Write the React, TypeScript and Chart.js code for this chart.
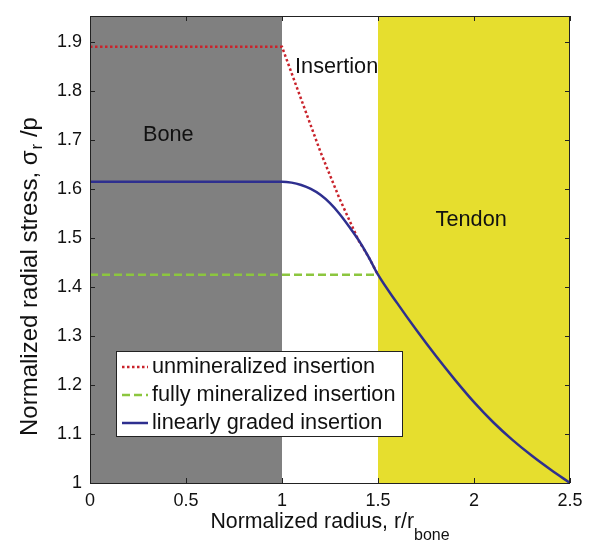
import React, { useEffect, useRef } from "react";
import { Chart, registerables } from "chart.js";

Chart.register(...registerables);

// ---- data ----
const xTickValues = [0, 0.5, 1, 1.5, 2, 2.5];
const xTickLabels = ["0", "0.5", "1", "1.5", "2", "2.5"];
const yTickValues = [1, 1.1, 1.2, 1.3, 1.4, 1.5, 1.6, 1.7, 1.8, 1.9];
const yTickLabels = ["1", "1.1", "1.2", "1.3", "1.4", "1.5", "1.6", "1.7", "1.8", "1.9"];

const unmineralizedX = [0, 1.0, 1.1, 1.2, 1.3, 1.4, 1.45, 1.5];
const unmineralizedY = [1.89, 1.89, 1.783, 1.676, 1.58, 1.494, 1.462, 1.425];

const fullyX = [0, 1.5];
const fullyY = [1.425, 1.425];

const gradedX = [0, 1.0, 1.05, 1.1, 1.15, 1.2, 1.25, 1.3, 1.35, 1.4, 1.45, 1.5, 1.6, 1.7, 1.8, 1.9, 2.0, 2.1, 2.2, 2.3, 2.4, 2.5];
const gradedY = [1.615, 1.615, 1.613, 1.608, 1.6, 1.588, 1.571, 1.549, 1.523, 1.495, 1.462, 1.425, 1.367, 1.312, 1.26, 1.211, 1.165, 1.124, 1.088, 1.056, 1.027, 1.0];

const seriesLabels = ["unmineralized insertion", "fully mineralized insertion", "linearly graded insertion"];

const regionNames = ["Bone", "Insertion", "Tendon"];
const regionFrom = [0, 1, 1.5];
const regionTo = [1, 1.5, 2.5];
const regionLabelX = [0.276, 1.068, 1.8];
const regionLabelY = [1.71, 1.849, 1.537];

const yTitleMain = "Normalized radial stress, σ";
const yTitleSub = "r";
const yTitleTail = " /p";
const xTitleMain = "Normalized radius, r/r";
const xTitleSub = "bone";

const FONT = "'Liberation Sans', Arial, Helvetica, sans-serif";
const regionColors = ["#808080", "rgba(0,0,0,0)", "#E6DE2E"];

const toPts = (xs: number[], ys: number[]) => xs.map((x, i) => ({ x, y: ys[i] }));

export default function App() {
  const ref = useRef<HTMLCanvasElement | null>(null);

  useEffect(() => {
    document.body.style.margin = "0";
    const canvas = ref.current;
    if (!canvas) return;

    const decor = {
      id: "decor",
      beforeDatasetsDraw(chart: any) {
        const { ctx, chartArea: a, scales } = chart;
        const xs = scales.x, ys = scales.y;
        ctx.save();
        for (let i = 0; i < regionNames.length; i++) {
          const x0 = xs.getPixelForValue(regionFrom[i]);
          const x1 = xs.getPixelForValue(regionTo[i]);
          ctx.fillStyle = regionColors[i];
          ctx.fillRect(x0, a.top, x1 - x0, a.bottom - a.top);
        }
        ctx.fillStyle = "#111";
        ctx.font = `21.7px ${FONT}`;
        ctx.textAlign = "left";
        ctx.textBaseline = "middle";
        for (let i = 0; i < regionNames.length; i++) {
          ctx.fillText(regionNames[i], xs.getPixelForValue(regionLabelX[i]), ys.getPixelForValue(regionLabelY[i]));
        }
        ctx.restore();
      },
      afterDraw(chart: any) {
        const { ctx, chartArea: a, scales } = chart;
        const xs = scales.x, ys = scales.y;
        ctx.save();
        // box
        ctx.strokeStyle = "#222";
        ctx.lineWidth = 1;
        ctx.strokeRect(Math.round(a.left) + 0.5, Math.round(a.top) + 0.5, Math.round(a.right - a.left) - 1, Math.round(a.bottom - a.top));
        // inward ticks
        const tl = 5;
        ctx.beginPath();
        xTickValues.forEach((v) => {
          const px = Math.round(xs.getPixelForValue(v)) + 0.5;
          ctx.moveTo(px, a.bottom);
          ctx.lineTo(px, a.bottom - tl);
          ctx.moveTo(px, a.top);
          ctx.lineTo(px, a.top + tl);
        });
        yTickValues.forEach((v) => {
          const py = Math.round(ys.getPixelForValue(v)) + 0.5;
          ctx.moveTo(a.left, py);
          ctx.lineTo(a.left + tl, py);
          ctx.moveTo(a.right, py);
          ctx.lineTo(a.right - tl, py);
        });
        ctx.stroke();

        // legend
        const lx = 116, ly = 351, lw = 286, lh = 85;
        ctx.fillStyle = "#fff";
        ctx.fillRect(lx, ly, lw, lh);
        ctx.strokeStyle = "#222";
        ctx.strokeRect(lx + 0.5, ly + 0.5, lw, lh);
        chart.data.datasets.forEach((ds: any, i: number) => {
          const cy = ly + 16 + i * 28;
          ctx.save();
          ctx.strokeStyle = ds.borderColor;
          ctx.lineWidth = ds.borderWidth;
          ctx.setLineDash(ds.borderDash || []);
          ctx.beginPath();
          ctx.moveTo(lx + 6, cy);
          ctx.lineTo(lx + 32, cy);
          ctx.stroke();
          ctx.restore();
          ctx.fillStyle = "#111";
          ctx.font = `21.7px ${FONT}`;
          ctx.textAlign = "left";
          ctx.textBaseline = "middle";
          ctx.fillText(ds.label, lx + 36, cy);
        });

        // axis titles
        ctx.fillStyle = "#111";
        ctx.textBaseline = "alphabetic";
        ctx.textAlign = "left";
        // x title
        {
          const main = `21.3px ${FONT}`;
          const sub = `16px ${FONT}`;
          ctx.font = main;
          const w1 = ctx.measureText(xTitleMain).width;
          ctx.font = sub;
          const w2 = ctx.measureText(xTitleSub).width;
          const cx = (a.left + a.right) / 2;
          const sx = cx - (w1 + w2) / 2;
          ctx.font = main;
          ctx.fillText(xTitleMain, sx, 528);
          ctx.font = sub;
          ctx.fillText(xTitleSub, sx + w1, 540);
        }
        // y title (rotated, starting at the bottom)
        {
          const main = `24px ${FONT}`;
          const sub = `17px ${FONT}`;
          ctx.save();
          ctx.translate(37, 436);
          ctx.rotate(-Math.PI / 2);
          let sx = 0;
          ctx.font = main;
          ctx.fillText(yTitleMain, sx, 0);
          sx += ctx.measureText(yTitleMain).width;
          ctx.font = sub;
          ctx.fillText(yTitleSub, sx + 1, 5);
          sx += ctx.measureText(yTitleSub).width + 1;
          ctx.font = main;
          ctx.fillText(yTitleTail, sx, 0);
          ctx.restore();
        }
        ctx.restore();
      },
    };

    const chart = new Chart(canvas, {
      type: "line",
      data: {
        datasets: [
          {
            label: seriesLabels[0],
            data: toPts(unmineralizedX, unmineralizedY),
            borderColor: "#C9232B",
            borderWidth: 2.5,
            borderDash: [2.5, 2.5],
            pointRadius: 0,
            tension: 0,
            fill: false,
            order: 2,
          },
          {
            label: seriesLabels[1],
            data: toPts(fullyX, fullyY),
            borderColor: "#8CC63F",
            borderWidth: 2.5,
            borderDash: [8, 4],
            pointRadius: 0,
            tension: 0,
            fill: false,
            order: 1,
          },
          {
            label: seriesLabels[2],
            data: toPts(gradedX, gradedY),
            borderColor: "#2E2F8F",
            borderWidth: 2.5,
            pointRadius: 0,
            cubicInterpolationMode: "monotone",
            fill: false,
            order: 0,
          },
        ],
      },
      options: {
        responsive: false,
        animation: false,
        layout: { padding: { top: 16, right: 30, left: 0, bottom: 0 } },
        plugins: { legend: { display: false }, tooltip: { enabled: false } },
        scales: {
          x: {
            type: "linear",
            min: 0,
            max: 2.5,
            grid: { display: false, drawTicks: false },
            border: { display: false },
            afterBuildTicks: (s: any) => {
              s.ticks = xTickValues.map((v) => ({ value: v }));
            },
            afterFit: (s: any) => {
              s.height = 66;
              s.paddingLeft = 0;
              s.paddingRight = 0;
            },
            ticks: {
              padding: 7,
              color: "#111",
              font: { family: FONT, size: 18 },
              maxRotation: 0,
              autoSkip: false,
              callback: (v: any) => {
                const i = xTickValues.findIndex((t) => Math.abs(t - Number(v)) < 1e-9);
                return i >= 0 ? xTickLabels[i] : "";
              },
            },
          },
          y: {
            type: "linear",
            min: 1,
            max: 1.953,
            grid: { display: false, drawTicks: false },
            border: { display: false },
            afterBuildTicks: (s: any) => {
              s.ticks = yTickValues.map((v) => ({ value: v }));
            },
            afterFit: (s: any) => {
              s.width = 90;
              s.paddingTop = 0;
              s.paddingBottom = 0;
            },
            ticks: {
              padding: 8,
              color: "#111",
              font: { family: FONT, size: 18 },
              autoSkip: false,
              callback: (v: any) => {
                const i = yTickValues.findIndex((t) => Math.abs(t - Number(v)) < 1e-9);
                return i >= 0 ? yTickLabels[i] : "";
              },
            },
          },
        },
      },
      plugins: [decor],
    } as any);

    return () => chart.destroy();
  }, []);

  return (
    <div style={{ width: 600, height: 549 }}>
      <canvas ref={ref} width={600} height={549} style={{ width: 600, height: 549, display: "block" }} />
    </div>
  );
}
